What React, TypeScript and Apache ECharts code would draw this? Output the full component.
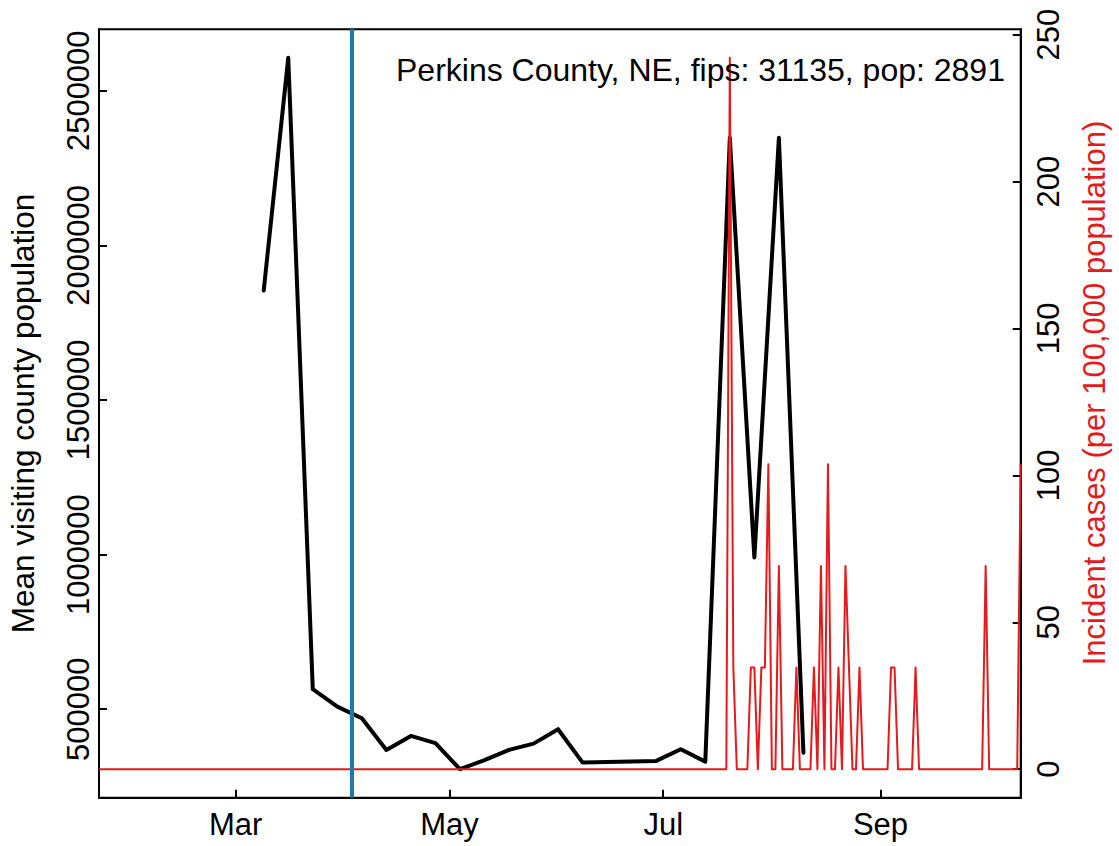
import React, { useEffect, useRef } from "react";
import * as echarts from "echarts";

// ---------- data ----------
const countyLabel = "Perkins County, NE, fips: 31135, pop: 2891";
const population = 2891;

// weekly mean visiting county population (black line)
const visitDates = [
  "2020-03-09", "2020-03-16", "2020-03-23", "2020-03-30", "2020-04-06",
  "2020-04-13", "2020-04-20", "2020-04-27", "2020-05-04", "2020-05-11",
  "2020-05-18", "2020-05-25", "2020-06-01", "2020-06-08", "2020-06-15",
  "2020-06-22", "2020-06-29", "2020-07-06", "2020-07-13", "2020-07-20",
  "2020-07-27", "2020-08-03", "2020-08-10",
];
const visitValues = [
  1853700, 2606700, 564700, 508400, 470900,
  368300, 413600, 390000, 305800, 335000,
  368300, 388700, 435300, 327200, 329400,
  331000, 332700, 370500, 330400, 2347900,
  990600, 2347900, 359500,
];

// daily incident case counts from 2020-01-22 to 2020-10-11 (red line)
const caseStartDate = "2020-01-22";
const dailyCases = [
  0, 0, 0, 0, 0, 0, 0, 0, 0, 0, // Jan 22
  0, 0, 0, 0, 0, 0, 0, 0, 0, 0,
  0, 0, 0, 0, 0, 0, 0, 0, 0, 0,
  0, 0, 0, 0, 0, 0, 0, 0, 0, 0,
  0, 0, 0, 0, 0, 0, 0, 0, 0, 0,
  0, 0, 0, 0, 0, 0, 0, 0, 0, 0,
  0, 0, 0, 0, 0, 0, 0, 0, 0, 0,
  0, 0, 0, 0, 0, 0, 0, 0, 0, 0,
  0, 0, 0, 0, 0, 0, 0, 0, 0, 0,
  0, 0, 0, 0, 0, 0, 0, 0, 0, 0,
  0, 0, 0, 0, 0, 0, 0, 0, 0, 0,
  0, 0, 0, 0, 0, 0, 0, 0, 0, 0,
  0, 0, 0, 0, 0, 0, 0, 0, 0, 0,
  0, 0, 0, 0, 0, 0, 0, 0, 0, 0,
  0, 0, 0, 0, 0, 0, 0, 0, 0, 0,
  0, 0, 0, 0, 0, 0, 0, 0, 0, 0,
  0, 0, 0, 0, 0, 0, 0, 0, 0, 0,
  0, 0, 0, 0, 0, 0, 0, 0, 0, 0,
  7, 1, 0, 0, 0, 0, 1, 1, 0, 1, // Jul 20
  1, 3, 0, 0, 2, 0, 0, 0, 0, 1, // Jul 30
  0, 0, 0, 0, 1, 0, 2, 0, 3, 0, // Aug 9
  0, 1, 0, 2, 1, 0, 0, 1, 0, 0, // Aug 19
  0, 0, 0, 0, 0, 0, 1, 1, 0, 0, // Aug 29
  0, 0, 0, 1, 0, 0, 0, 0, 0, 0, // Sep 8
  0, 0, 0, 0, 0, 0, 0, 0, 0, 0, // Sep 18
  0, 0, 0, 2, 0, 0, 0, 0, 0, 0, // Sep 28
  0, 0, 0, 3,                   // Oct 8
];

const interventionDate = "2020-04-03";
const xRangeDates = ["2020-01-22", "2020-10-11"];
const xTickDates = ["2020-03-01", "2020-05-01", "2020-07-01", "2020-09-01"];
const monthNames = ["Jan", "Feb", "Mar", "Apr", "May", "Jun", "Jul", "Aug", "Sep", "Oct", "Nov", "Dec"];
const leftTicks = [500000, 1000000, 1500000, 2000000, 2500000];
const rightTicks = [0, 50, 100, 150, 200, 250];

const leftTitle = "Mean visiting county population";
const rightTitle = "Incident cases (per 100,000 population)";

// ---------- helpers ----------
const DAY = 86400000;
const toTs = (s: string) => {
  const [y, m, d] = s.split("-").map(Number);
  return Date.UTC(y, m - 1, d);
};
const rRange = (vals: number[]) => {
  const lo = Math.min(...vals);
  const hi = Math.max(...vals);
  const pad = (hi - lo) * 0.04;
  return [lo - pad, hi + pad];
};

const FONT = "'Liberation Sans', Arial, Helvetica, sans-serif";
const RED = "#E41A1C";
const BLUE = "#1F78B4";
const FS = 31;

export default function App() {
  const ref = useRef<HTMLDivElement>(null);

  useEffect(() => {
    if (!ref.current) return;
    const chart = echarts.init(ref.current, null, { renderer: "svg" });

    const caseStart = toTs(caseStartDate);
    const incidence = dailyCases.map((c) => (c * 100000) / population);
    const caseSeries = incidence.map((v, i) => [caseStart + i * DAY, v]);
    const visitSeries = visitDates.map((d, i) => [toTs(d), visitValues[i]]);

    const [lMin, lMax] = rRange(visitValues);
    const [rMin, rMax] = rRange(incidence);
    const xTicks = xTickDates.map(toTs);

    const option: any = {
      animation: false,
      backgroundColor: "#ffffff",
      textStyle: { fontFamily: FONT },
      grid: {
        left: 99,
        right: 98.3,
        top: 29.3,
        bottom: 48.3,
        show: true,
        borderColor: "#000",
        borderWidth: 2,
        backgroundColor: "transparent",
        containLabel: false,
      },
      xAxis: {
        type: "value",
        min: toTs(xRangeDates[0]),
        max: toTs(xRangeDates[1]),
        axisLine: { show: true, onZero: false, lineStyle: { color: "#000", width: 2 } },
        axisTick: {
          show: true,
          inside: true,
          length: 8,
          customValues: xTicks,
          lineStyle: { color: "#000", width: 2 },
        },
        axisLabel: {
          customValues: xTicks,
          formatter: (v: number) => monthNames[new Date(v).getUTCMonth()],
          fontSize: FS,
          fontFamily: FONT,
          color: "#000",
          margin: 11,
        },
        splitLine: { show: false },
      },
      yAxis: [
        {
          type: "value",
          position: "left",
          min: lMin,
          max: lMax,
          axisLine: { show: true, onZero: false, lineStyle: { color: "#000", width: 2 } },
          axisTick: {
            show: true,
            inside: true,
            length: 8,
            customValues: leftTicks,
            lineStyle: { color: "#000", width: 2 },
          },
          axisLabel: {
            customValues: leftTicks,
            rotate: 90,
            formatter: (v: number) => String(Math.round(v)),
            fontSize: FS,
            fontFamily: FONT,
            color: "#000",
            margin: 5,
          },
          splitLine: { show: false },
        },
        {
          type: "value",
          position: "right",
          min: rMin,
          max: rMax,
          axisLine: { show: true, onZero: false, lineStyle: { color: "#000", width: 2 } },
          axisTick: {
            show: true,
            inside: true,
            length: 8,
            customValues: rightTicks,
            lineStyle: { color: "#000", width: 2 },
          },
          axisLabel: {
            customValues: rightTicks,
            rotate: 90,
            formatter: (v: number) => String(Math.round(v)),
            fontSize: FS,
            fontFamily: FONT,
            color: "#000",
            margin: 12.5,
          },
          splitLine: { show: false },
        },
      ],
      series: [
        {
          name: "visitors",
          type: "line",
          yAxisIndex: 0,
          data: visitSeries,
          showSymbol: false,
          symbol: "none",
          z: 2,
          lineStyle: { color: "#000", width: 4, cap: "round", join: "round" },
        },
        {
          name: "cases",
          type: "line",
          yAxisIndex: 1,
          data: caseSeries,
          showSymbol: false,
          symbol: "none",
          z: 3,
          lineStyle: { color: RED, width: 2, join: "round" },
          markLine: {
            silent: true,
            symbol: ["none", "none"],
            label: { show: false },
            lineStyle: { color: BLUE, width: 4, type: "solid" },
            data: [{ xAxis: toTs(interventionDate) }],
          },
        },
      ],
      graphic: [
        {
          type: "text",
          x: 396,
          y: 70.1,
          z: 10,
          style: {
            text: countyLabel,
            fontSize: 32,
            fontFamily: FONT,
            fill: "#000",
            align: "left",
            textAlign: "left",
            verticalAlign: "middle",
            textVerticalAlign: "middle",
          },
        },
        {
          type: "text",
          x: 23.4,
          y: 413.5,
          rotation: Math.PI / 2,
          style: {
            text: leftTitle,
            fontSize: 31.5,
            fontFamily: FONT,
            fill: "#000",
            align: "center",
            textAlign: "center",
            verticalAlign: "middle",
            textVerticalAlign: "middle",
          },
        },
        {
          type: "text",
          x: 1094.4,
          y: 393,
          rotation: Math.PI / 2,
          style: {
            text: rightTitle,
            fontSize: 31,
            fontFamily: FONT,
            fill: RED,
            align: "center",
            textAlign: "center",
            verticalAlign: "middle",
            textVerticalAlign: "middle",
          },
        },
      ],
    };

    chart.setOption(option);
    return () => chart.dispose();
  }, []);

  return (
    <div
      ref={ref}
      style={{ position: "absolute", left: 0, top: 0, width: 1119, height: 846, background: "#fff" }}
    />
  );
}
